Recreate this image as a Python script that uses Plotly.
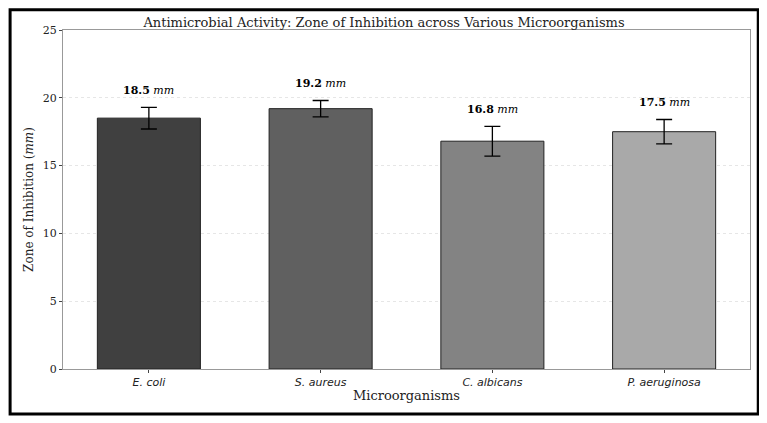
import plotly.graph_objects as go

organisms = ['E. coli', 'S. aureus', 'C. albicans', 'P. aeruginosa']
zones = [18.5, 19.2, 16.8, 17.5]
errors = [0.8, 0.6, 1.1, 0.9]
colors = ['#404040', '#606060', '#838383', '#a9a9a9']

fig = go.Figure(go.Bar(
    x=organisms, y=zones, width=0.6,
    marker=dict(color=colors, line=dict(color='#222', width=1)),
    error_y=dict(type='data', array=errors, color='black', thickness=1.3, width=8),
))

for o, z, e in zip(organisms, zones, errors):
    fig.add_annotation(x=o, y=z + e + 0.6, text=f'<b>{z}</b> <i>mm</i>', showarrow=False,
                       yanchor='bottom', font=dict(family='DejaVu Serif', size=11, color='black'))

# outer black frame
fig.add_shape(type='rect', xref='paper', yref='paper', x0=-0.077, x1=1.012, y0=-0.133, y1=1.06,
              line=dict(color='black', width=3))

fig.update_layout(
    width=752, height=408,
    margin=dict(l=55, r=10, t=22, b=47),
    paper_bgcolor='white', plot_bgcolor='white',
    title=dict(text='Antimicrobial Activity: Zone of Inhibition across Various Microorganisms',
               x=0.5, xanchor='center', y=0.975, font=dict(family='DejaVu Serif', size=13, color='#222')),
    font=dict(family='DejaVu Serif', size=11, color='#222'),
    xaxis=dict(title=dict(text='Microorganisms', standoff=2, font=dict(size=13)),
               tickfont=dict(family='DejaVu Sans', size=11, style='italic'),
               showline=True, mirror=True, linecolor='#999', ticks='outside', ticklen=3),
    yaxis=dict(title=dict(text='Zone of Inhibition (<i>mm</i>)', font=dict(size=12), standoff=6),
               range=[0, 25], dtick=5, gridcolor='#e6e6e6', griddash='dot', zeroline=False,
               showline=True, mirror=True, linecolor='#999', ticks='outside', ticklen=3),
    showlegend=False,
)

fig.write_html('out.html')
